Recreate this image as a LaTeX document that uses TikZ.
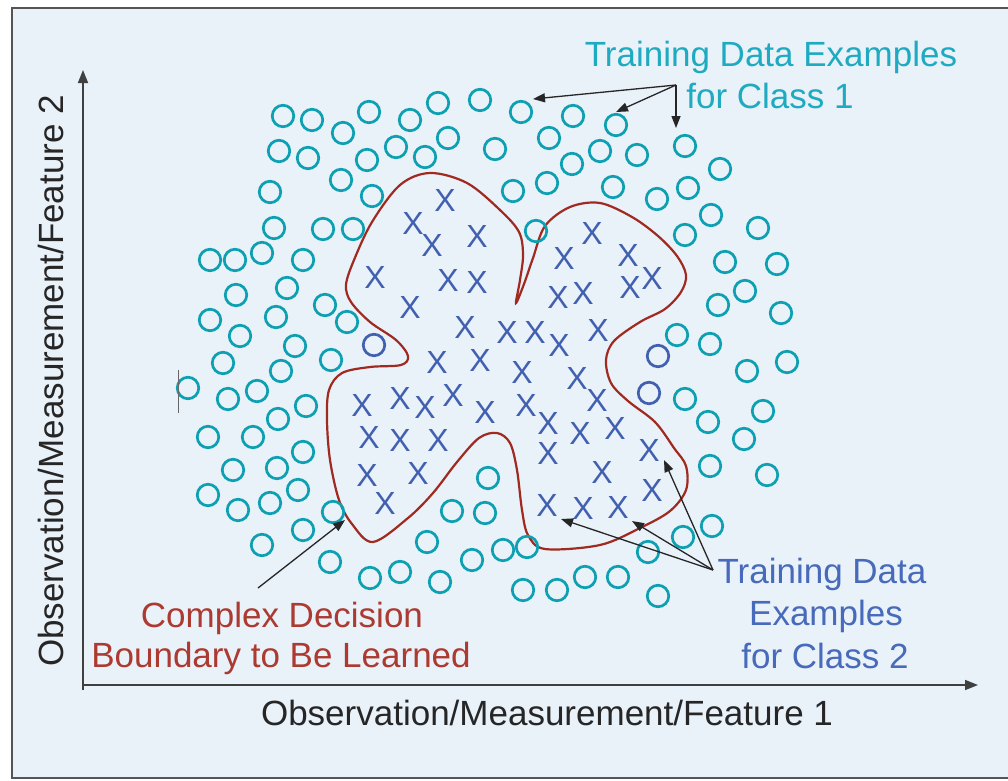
\documentclass[tikz,border=0pt]{standalone}
\usepackage{fontspec}
\setmainfont{Liberation Sans}
\usetikzlibrary{arrows.meta}
\definecolor{bgc}{RGB}{233,241,249}
\definecolor{tealc}{RGB}{12,160,178}
\definecolor{tealt}{RGB}{30,170,192}
\definecolor{bluex}{RGB}{66,96,176}
\definecolor{bluet}{RGB}{72,106,186}
\definecolor{redb}{RGB}{160,42,32}
\definecolor{redt}{RGB}{172,58,48}
\definecolor{framec}{RGB}{85,85,85}
\begin{document}
\begin{tikzpicture}[x=1pt,y=-1pt,
  dot/.style={circle,draw=tealc,line width=2.7pt,minimum size=21.5pt,inner sep=0pt},
  bdot/.style={dot,draw=bluex},
  xm/.style={text=bluex,font=\fontsize{32}{32}\selectfont,inner sep=0pt},
  lbl/.style={font=\fontsize{35}{42}\selectfont,inner sep=0pt,anchor=base},
  ptr/.style={draw=black!85,line width=1.3pt,-{Triangle[length=12pt,width=9pt]}},
  ax/.style={draw=black!75,line width=1.6pt,-{Triangle[length=13pt,width=10pt]}}]
\useasboundingbox (0,0) rectangle (1008,780);
\fill[white] (0,0) rectangle (1008,780);
\fill[bgc] (12,8) rectangle (1008,778);
\draw[framec,line width=2pt] (1010,8) -- (12,8) -- (12,778) -- (1010,778);

% axes
\coordinate (o) at (83,685);
\coordinate (ytop) at (83,70);
\coordinate (xend) at (978,685);
\draw[ax] (83,690) -- (ytop);
\draw[ax] (o) -- (xend);

% decision boundary
\draw[redb,line width=2.2pt] plot[smooth cycle,tension=0.55] coordinates {
(516,303) (520,280) (523,255) (519,232) (500,210) (467,183) (430,173)
(400,185) (372,222) (354,260) (346,285) (351,302) (370,322) (396,340)
(408,356) (401,365) (370,367) (342,373) (329,390) (327,420) (330,460)
(339,500) (352,524) (373,542) (408,518) (433,493) (457,462) (479,438)
(497,433) (510,443) (517,470) (522,510) (528,535) (545,549) (600,545)
(640,528) (670,511) (686,490) (686,466) (674,448) (655,422) (628,401)
(611,383) (606,360) (614,341) (640,322) (665,309) (681,292) (686,275)
(677,256) (658,236) (632,217) (600,203) (570,207) (545,226) (533,258)
(524,284)};

% class 1 circles
\foreach \px/\py [count=\i] in {
283/116,312/120,343/133,369/112,410/120,438/103,480/100,521/112,
279/151,308/158,367/160,396/147,341/180,270/192,372/196,274/228,
323/229,353/229,448/138,425/157,495/149,573/116,616/125,549/138,
600/151,572/164,637/155,513/191,547/183,613/187,536/231,
685/146,720/169,688/188,657/199,711/215,685/235,758/228,725/262,
777/264,745/291,718/305,781/313,677/335,710/344,747/371,787/362,
685/399,708/422,763/411,744/439,710/466,767/475,712/526,683/537,
648/552,658/596,618/577,585/577,557/590,523/590,527/547,503/550,
472/560,440/582,400/572,370/578,427/542,452/511,485/513,488/478,
330/562,210/260,235/260,262/253,303/260,236/295,287/288,210/320,
276/317,325/305,347/322,240/336,295/346,223/363,281/371,331/360,
188/388,228/399,257/391,306/406,278/419,208/437,253/437,303/452,
233/470,277/468,208/495,238/510,270/503,298/490,333/512,303/530,
262/545}
  \node[dot] (c\i) at (\px,\py) {};

% misplaced class 2 circles
\node[bdot] (b1) at (374,345) {};
\node[bdot] (b2) at (658,356) {};
\node[bdot] (b3) at (649,393) {};

% class 2 crosses
\foreach \px/\py [count=\i] in {
445/200,413/223,432/245,477/236,592/233,564/258,628/255,375/277,
410/307,448/280,477/282,558/297,583/293,630/287,652/278,
465/327,507/332,535/332,559/345,598/330,437/362,480/360,522/372,
577/378,362/405,400/398,425/407,453/395,485/412,526/405,597/400,
548/423,580/433,615/428,369/437,400/440,438/440,548/453,649/450,
367/475,418/473,602/472,652/490,385/503,547/505,583/508,618/507}
  \node[xm] (x\i) at (\px,\py) {X};

% small tick
\draw[black!60,line width=1pt] (178,370) -- (178,413);

% labels
\node[lbl,text=tealt] (l1a) at (771,66) {Training Data Examples};
\node[lbl,text=tealt] (l1b) at (770,108) {for Class 1};
\node[lbl,text=redt] (l2a) at (282,627) {Complex Decision};
\node[lbl,text=redt] (l2b) at (281,667) {Boundary to Be Learned};
\node[lbl,text=bluet] (l3a) at (822,583) {Training Data};
\node[lbl,text=bluet] (l3b) at (826,625) {Examples};
\node[lbl,text=bluet] (l3c) at (825,668) {for Class 2};
\node[lbl,text=black!85] (xl) at (547,725) {Observation/Measurement/Feature 1};
\node[lbl,text=black!85,rotate=90] (yl) at (63,381) {Observation/Measurement/Feature 2};

% pointers class 1
\coordinate (a1) at (676,85);
\coordinate (p1) at (533,99);
\coordinate (p2) at (616,112);
\coordinate (p3) at (676,128);
\draw[ptr] (a1) -- (p1);
\draw[ptr] (a1) -- (p2);
\draw[ptr] (a1) -- (p3);

% pointers class 2
\coordinate (a2) at (713,570);
\coordinate (q1) at (664,460);
\coordinate (q2) at (632,521);
\coordinate (q3) at (561,519);
\draw[ptr] (a2) -- (q1);
\draw[ptr] (a2) -- (q2);
\draw[ptr] (a2) -- (q3);

% pointer boundary
\coordinate (r0) at (258,588);
\coordinate (r1) at (345,520);
\draw[ptr] (r0) -- (r1);
\end{tikzpicture}
\end{document}
